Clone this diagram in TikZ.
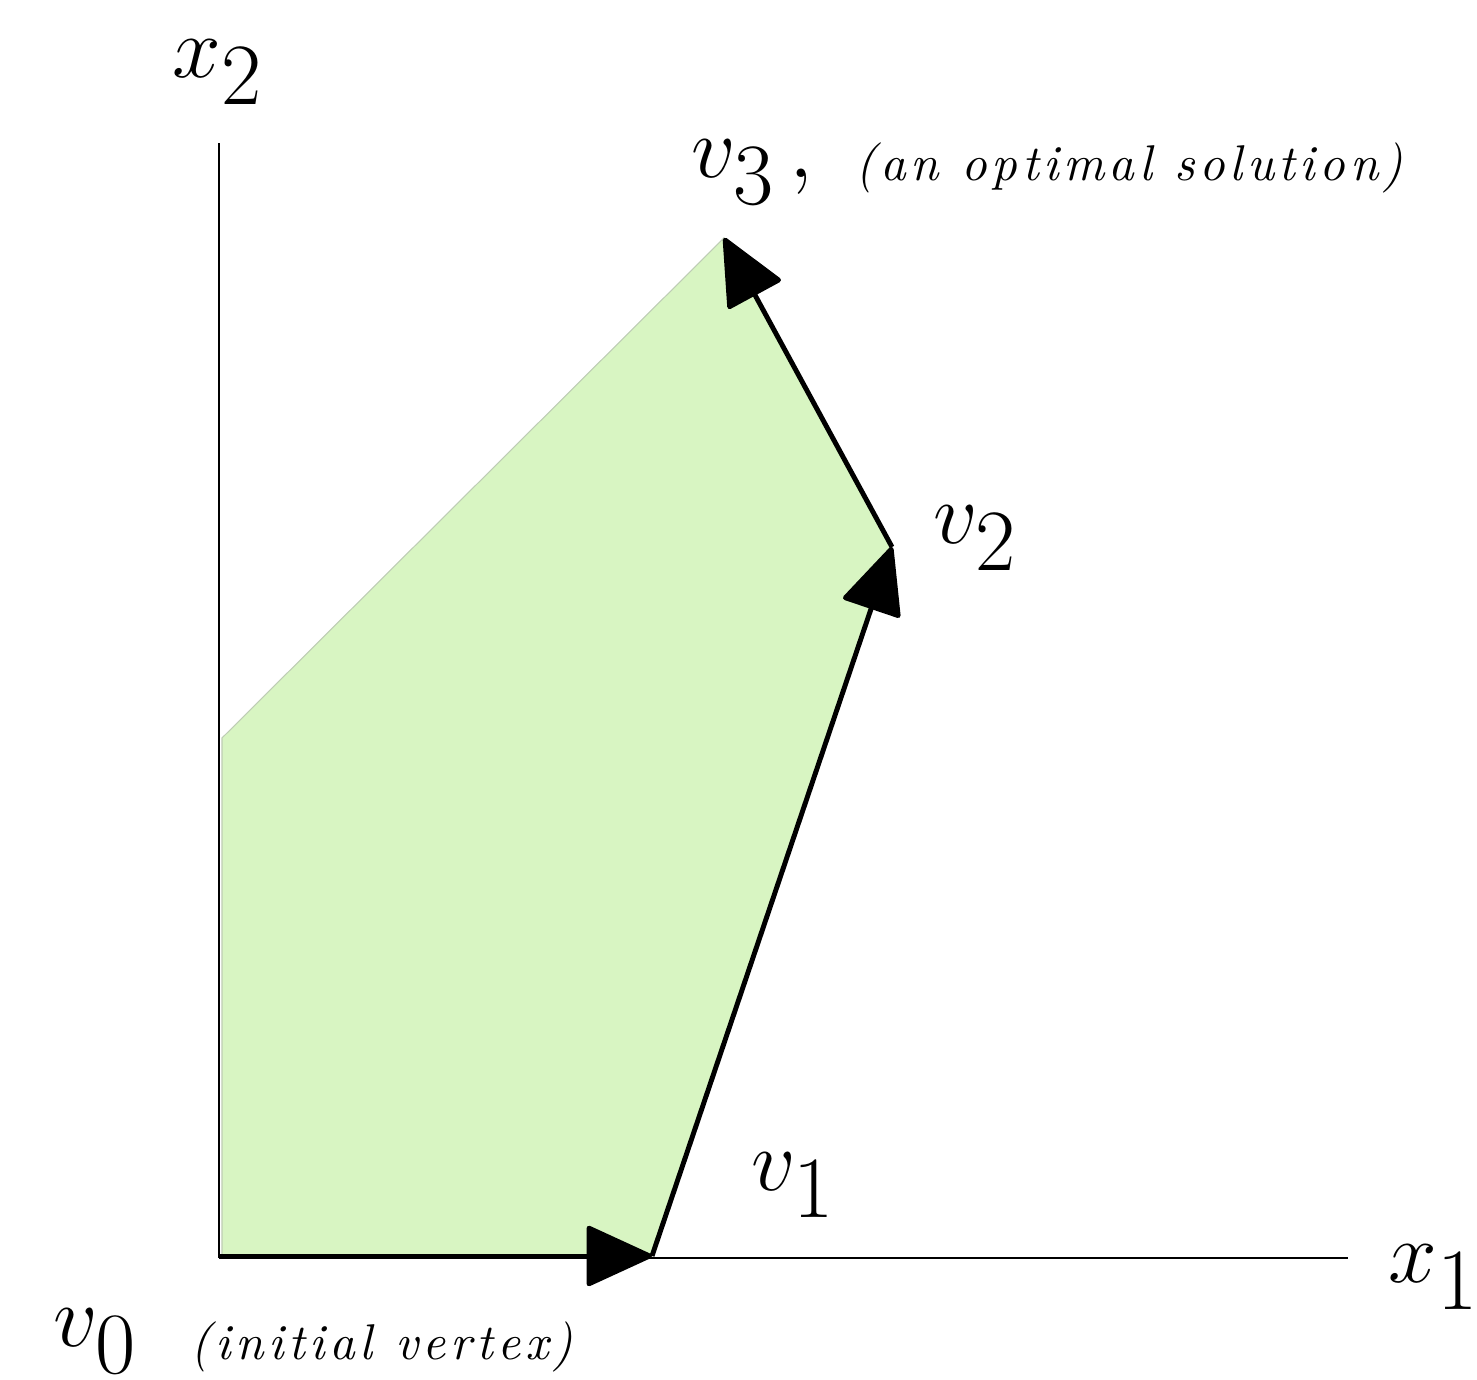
\documentclass[tikz,border=0pt]{standalone}
\usepackage{fontspec}
\usepackage{amsmath}
\usepackage{tikz}
\usetikzlibrary{arrows.meta}
\newfontfamily\notefont[LetterSpace=9]{lmroman10-italic.otf}
\DeclareMathSizes{28.6}{28.6}{23.8}{19.9}
\definecolor{feasgreen}{RGB}{216,245,194}
\definecolor{feasedge}{RGB}{190,205,180}

\tikzset{
  axis/.style={line width=0.4pt},
  simplexstep/.style={line width=1.4pt,
    -{Triangle[round, length=6.9mm, width=6.2mm]}},
  vlabel/.style={inner sep=0pt, anchor=base west,
    font=\fontsize{28.6}{34}\selectfont},
  note/.style={inner sep=0pt, anchor=base west,
    font=\fontsize{14.3}{17}\notefont}
}

\begin{document}
\begin{tikzpicture}
  \useasboundingbox (0,0) rectangle (14.77,13.80);

  % Vertices of the feasible region
  \coordinate (O)  at (2.19,1.22);
  \coordinate (v0) at (2.20,1.24);
  \coordinate (v1) at (6.52,1.24);
  \coordinate (v2) at (8.92,8.33);
  \coordinate (v3) at (7.24,11.42);
  \coordinate (c4) at (2.22,6.42);
  \coordinate (xend) at (13.48,1.22);
  \coordinate (yend) at (2.19,12.37);

  % Feasible region
  \fill[feasgreen, draw=feasedge, line width=0.3pt]
    (2.22,1.24) -- (v1) -- (v2) -- (v3) -- (c4) -- cycle;

  % Axes
  \draw[axis] (O) -- (xend);
  \draw[axis] (O) -- (yend);
  \node[vlabel] (x1) at (13.88,0.97) {$x_1$};
  \node[vlabel] (x2) at (1.72,13.02) {$x_2$};

  % Simplex path
  \draw[simplexstep] (v0) -- (v1);
  \draw[simplexstep] (v1) -- (v2);
  \draw[simplexstep] (v2) -- (v3);

  % Labels
  \node[vlabel] (l0) at (0.53,0.33) {$v_0$};
  \node[note] (n0) at (1.90,0.20) {(initial vertex)};
  \node[vlabel] (l1) at (7.51,1.89) {$v_1$};
  \node[vlabel] (l2) at (9.33,8.36) {$v_2$};
  \node[vlabel] (l3) at (6.91,12.02) {$v_3\,,$};
  \node[note] (n3) at (8.55,11.99) {(an optimal solution)};
\end{tikzpicture}
\end{document}
